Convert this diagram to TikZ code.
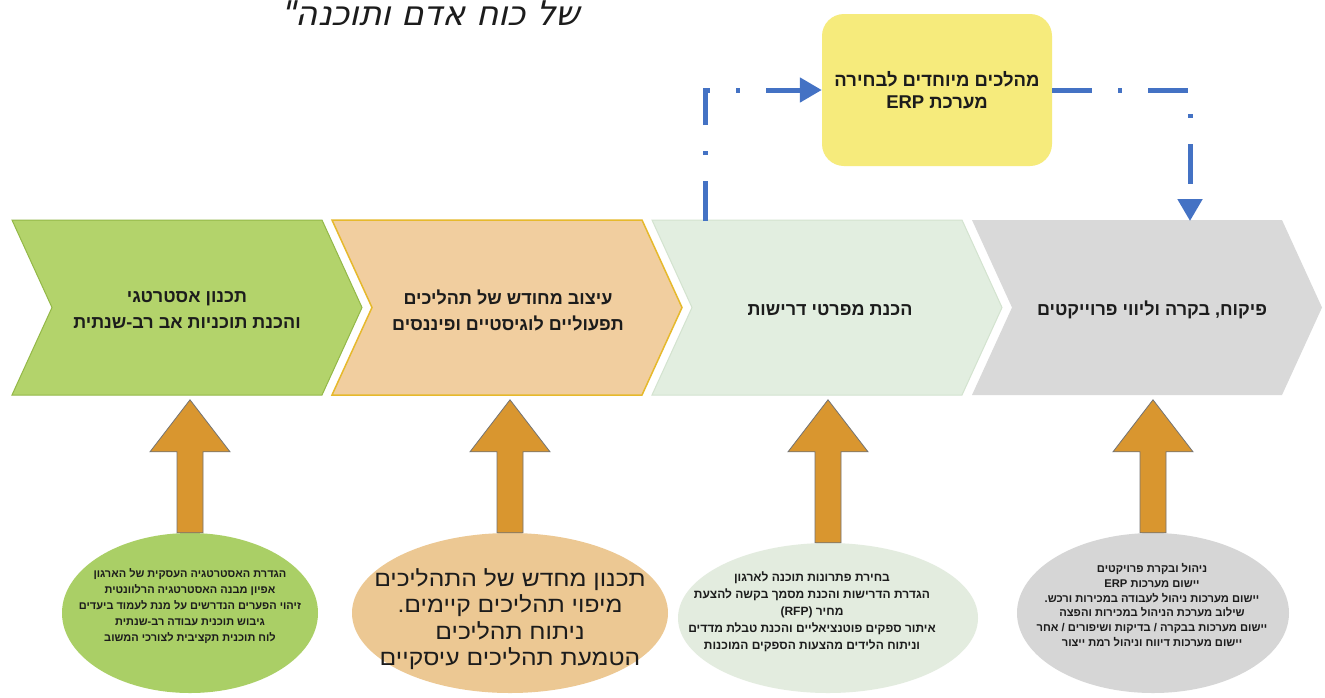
\documentclass[tikz,border=0pt]{standalone}
\usepackage{fontspec}
\setmainfont{Liberation Sans}
\newfontfamily\hebfont[Script=Hebrew]{Liberation Sans}
\newfontfamily\hebwide[Script=Hebrew,FakeStretch=1.12]{Liberation Sans}
\newfontfamily\titlefont[Script=Hebrew,FakeSlant=0.22]{DejaVu Sans}
\usetikzlibrary{arrows.meta,shapes.geometric}
\TeXXeTstate=1
\newcommand\rtlline[1]{\beginR #1\endR}
\newcommand\chevpath[1]{(#1,220) -- ++(310,0) -- ++(40,87.5) -- ++(-40,87.5) -- ++(-310,0) -- ++(40,-87.5) -- cycle}
\definecolor{chgreen}{HTML}{B3D36B}
\definecolor{chgreenb}{HTML}{93B847}
\definecolor{chorange}{HTML}{F1CE9F}
\definecolor{chorangeb}{HTML}{E6B92C}
\definecolor{chlight}{HTML}{E2EEE0}
\definecolor{chlightb}{HTML}{D3E3CF}
\definecolor{chgray}{HTML}{D9D9D9}
\definecolor{elgreen}{HTML}{AACF66}
\definecolor{elorange}{HTML}{ECC893}
\definecolor{ellight}{HTML}{E3ECDF}
\definecolor{elgray}{HTML}{D6D6D6}
\definecolor{arrorange}{HTML}{D9962F}
\definecolor{erpblue}{HTML}{4472C4}
\definecolor{erpyellow}{HTML}{F6EB7C}
\definecolor{txt}{HTML}{1C1C1C}
\begin{document}
\begin{tikzpicture}[x=1pt,y=-1pt,
  chevtext/.style={font=\hebfont\bfseries\fontsize{18}{26}\selectfont, align=center, text=txt, inner sep=0pt},
  eltext/.style={align=center, text=txt, inner sep=0pt},
  ell/.style={ellipse, draw=none, inner sep=0pt},
  blockarrow/.style={fill=arrorange, draw=black!55, line width=0.8pt, line join=miter},
  blueconn/.style={draw=erpblue, line width=5pt, dash pattern=on 40pt off 26pt on 4pt off 26pt, -{Triangle[length=22pt,width=24pt]}}
]
\useasboundingbox (0,0) rectangle (1325,697);
\fill[white] (0,0) rectangle (1325,697);

% title
\node[anchor=base east, font=\titlefont\fontsize{34}{38}\selectfont, text=txt, inner sep=0pt] (title) at (580,25) {\rtlline{של כוח אדם ותוכנה"}};

% chevrons
\draw[fill=chgreen, draw=chgreenb, line width=1pt] \chevpath{12};
\draw[fill=chorange, draw=chorangeb, line width=1.5pt] \chevpath{332};
\draw[fill=chlight, draw=chlightb, line width=1pt] \chevpath{652};
\fill[chgray] \chevpath{972};

\node[chevtext] (c1) at (187,310) {\rtlline{תכנון אסטרטגי}\\\rtlline{והכנת תוכניות אב רב-שנתית}};
\node[chevtext] (c2) at (508,310) {\rtlline{עיצוב מחודש של תהליכים}\\\rtlline{תפעוליים לוגיסטיים ופיננסים}};
\node[chevtext] (c3) at (830,310) {\rtlline{הכנת מפרטי דרישות}};
\node[chevtext] (c4) at (1152,310) {\rtlline{פיקוח, בקרה וליווי פרוייקטים}};

\coordinate (c3top) at (705,221);
\coordinate (c4top) at (1190,221);

% ERP box
\node[rectangle, rounded corners=22pt, fill=erpyellow, minimum width=230pt, minimum height=152pt, inner sep=0pt, align=center, text=txt, font=\hebfont\bfseries\fontsize{18.5}{22}\selectfont] (erp) at (937,90) {\rtlline{מהלכים מיוחדים לבחירה}\\\rtlline{מערכת ERP}};

\draw[blueconn] (c3top) |- (erp.west);
\draw[blueconn] (erp.east) -| (c4top);

% ellipses
\node[ell, fill=elgreen, minimum width=256pt, minimum height=160pt] (e1) at (190,613) {};
\node[ell, fill=elorange, minimum width=316pt, minimum height=160pt] (e2) at (510,613) {};
\node[ell, fill=ellight, minimum width=300pt, minimum height=150pt] (e3) at (828,618) {};
\node[ell, fill=elgray, minimum width=272pt, minimum height=160pt] (e4) at (1153,613) {};

\node[eltext, font=\hebfont\bfseries\fontsize{11}{16}\selectfont] (t1) at (190,606) {\rtlline{הגדרת האסטרטגיה העסקית של הארגון}\\\rtlline{אפיון מבנה האסטרטגיה הרלוונטית}\\\rtlline{זיהוי הפערים הנדרשים על מנת לעמוד ביעדים}\\\rtlline{גיבוש תוכנית עבודה רב-שנתית}\\\rtlline{לוח תוכנית תקציבית לצורכי המשוב}};
\node[eltext, font=\hebwide\fontsize{22}{26.5}\selectfont] (t2) at (510,619) {\rtlline{תכנון מחדש של התהליכים}\\\rtlline{מיפוי תהליכים קיימים.}\\\rtlline{ניתוח תהליכים}\\\rtlline{הטמעת תהליכים עיסקיים}};
\node[eltext, font=\hebfont\bfseries\fontsize{12}{17}\selectfont] (t3) at (812,612) {\rtlline{בחירת פתרונות תוכנה לארגון}\\\rtlline{הגדרת הדרישות והכנת מסמך בקשה להצעת}\\\rtlline{מחיר \beginL(RFP)\endL}\\\rtlline{איתור ספקים פוטנציאליים והכנת טבלת מדדים}\\\rtlline{וניתוח הלידים מהצעות הספקים המוכנות}};
\node[eltext, font=\hebfont\bfseries\fontsize{11.2}{14.8}\selectfont] (t4) at (1152,605) {\rtlline{ניהול ובקרת פרויקטים}\\\rtlline{יישום מערכות ERP}\\\rtlline{יישום מערכות ניהול לעבודה במכירות ורכש.}\\\rtlline{שילוב מערכת הניהול במכירות והפצה}\\\rtlline{יישום מערכות בבקרה / בדיקות ושיפורים / אחר}\\\rtlline{יישום מערכות דיווח וניהול רמת ייצור}};

% block arrows from ellipses up to chevrons
\draw[blockarrow] ([xshift=-13pt]e1.north) -- ++(0,-81) -- ++(-27,0) -- ++(40,-52) -- ++(40,52) -- ++(-27,0) -- ++(0,81) -- cycle;
\draw[blockarrow] ([xshift=-13pt]e2.north) -- ++(0,-81) -- ++(-27,0) -- ++(40,-52) -- ++(40,52) -- ++(-27,0) -- ++(0,81) -- cycle;
\draw[blockarrow] ([xshift=-13pt]e3.north) -- ++(0,-91) -- ++(-27,0) -- ++(40,-52) -- ++(40,52) -- ++(-27,0) -- ++(0,91) -- cycle;
\draw[blockarrow] ([xshift=-13pt]e4.north) -- ++(0,-81) -- ++(-27,0) -- ++(40,-52) -- ++(40,52) -- ++(-27,0) -- ++(0,81) -- cycle;
\end{tikzpicture}
\end{document}
